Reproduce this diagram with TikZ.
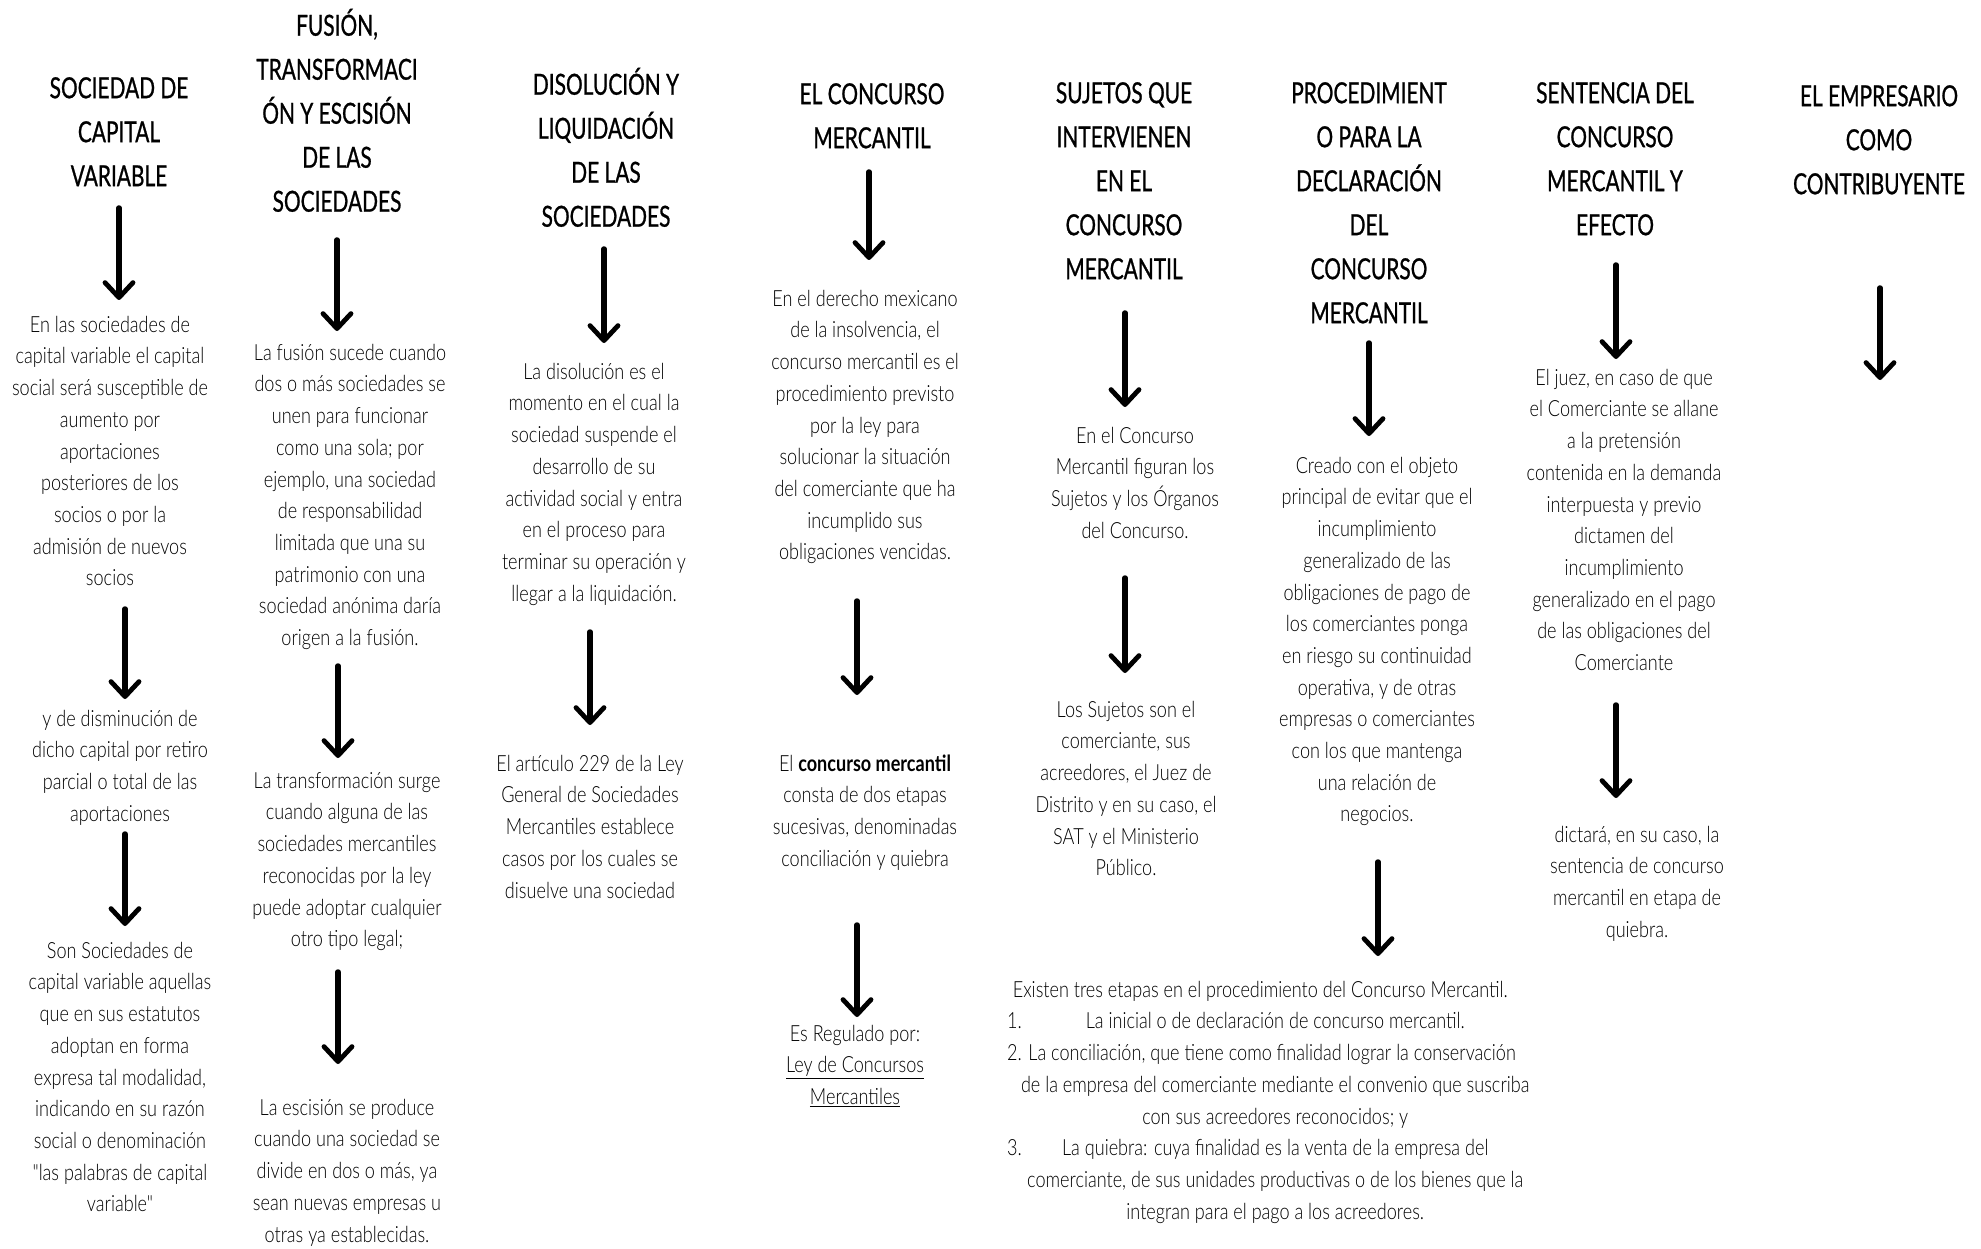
\documentclass[tikz,border=0pt]{standalone}
\usepackage{fontspec}
\usetikzlibrary{arrows.meta}
\IfFontExistsTF{Lato Light}{%
  \newfontfamily\bdfont[FakeStretch=0.81,BoldFont={Lato Bold}]{Lato Light}}{%
  \newfontfamily\bdfont[FakeStretch=0.81]{Lato}}
\newfontfamily\hdfont[FakeStretch=0.72,FakeBold=0.8]{Lato}
\newcommand\hstr{\rule{0pt}{29pt}}
\newcommand\bstr{\rule{0pt}{22.3pt}}
\begin{document}
\begin{tikzpicture}[x=1pt,y=-1pt,
  hd/.style={font=\hdfont\fontsize{29}{44}\selectfont, align=center, inner sep=0pt, anchor=north},
  bd/.style={font=\bdfont\fontsize{22.3}{31.7}\selectfont, align=center, inner sep=0pt, anchor=north},
  arr/.style={line width=5.5pt, line cap=round,
    -{Straight Barb[length=15pt,width=28pt,line width=4.8pt,round]}}]
\useasboundingbox (0,0) rectangle (1981,1249);
\fill[white] (0,0) rectangle (1981,1249);

% ---------- Column 1
\node[hd] (h1) at (119,69) {\hstr SOCIEDAD DE\\CAPITAL\\VARIABLE};
\node[bd] (t1a) at (110,309.7) {\bstr En las sociedades de\\capital variable el capital\\social será susceptible de\\aumento por\\aportaciones\\posteriores de los\\socios o por la\\admisión de nuevos\\socios};
\node[bd] (t1b) at (120,703.7) {\bstr y de disminución de\\dicho capital por retiro\\parcial o total de las\\aportaciones};
\node[bd] (t1c) at (120,935.7) {\bstr Son Sociedades de\\capital variable aquellas\\que en sus estatutos\\adoptan en forma\\expresa tal modalidad,\\indicando en su razón\\social o denominación\\"las palabras de capital\\variable"};
\coordinate (a1s) at (119,208); \coordinate (a1e) at (119,300);
\coordinate (a2s) at (125,609); \coordinate (a2e) at (125,699);
\coordinate (a3s) at (125,834); \coordinate (a3e) at (125,926);
\draw[arr] (a1s) -- (a1e);
\draw[arr] (a2s) -- (a2e);
\draw[arr] (a3s) -- (a3e);

% ---------- Column 2
\node[hd] (h2) at (337,6.5) {\hstr FUSIÓN,\\TRANSFORMACI\\ÓN Y ESCISIÓN\\DE LAS\\SOCIEDADES};
\node[bd] (t2a) at (350,337.7) {\bstr La fusión sucede cuando\\dos o más sociedades se\\unen para funcionar\\como una sola; por\\ejemplo, una sociedad\\de responsabilidad\\limitada que una su\\patrimonio con una\\sociedad anónima daría\\origen a la fusión.};
\node[bd] (t2b) at (347,765.7) {\bstr La transformación surge\\cuando alguna de las\\sociedades mercantiles\\reconocidas por la ley\\puede adoptar cualquier\\otro tipo legal;};
\node[bd] (t2c) at (347,1092.7) {\bstr La escisión se produce\\cuando una sociedad se\\divide en dos o más, ya\\sean nuevas empresas u\\otras ya establecidas.};
\coordinate (b1s) at (337,240); \coordinate (b1e) at (337,331);
\coordinate (b2s) at (338,666); \coordinate (b2e) at (338,758);
\coordinate (b3s) at (338,972); \coordinate (b3e) at (338,1064);
\draw[arr] (b1s) -- (b1e);
\draw[arr] (b2s) -- (b2e);
\draw[arr] (b3s) -- (b3e);

% ---------- Column 3
\node[hd] (h3) at (606,65.5) {\hstr DISOLUCIÓN Y\\LIQUIDACIÓN\\DE LAS\\SOCIEDADES};
\node[bd] (t3a) at (594,356.7) {\bstr La disolución es el\\momento en el cual la\\sociedad suspende el\\desarrollo de su\\actividad social y entra\\en el proceso para\\terminar su operación y\\llegar a la liquidación.};
\node[bd] (t3b) at (590,748.7) {\bstr El artículo 229 de la Ley\\General de Sociedades\\Mercantiles establece\\casos por los cuales se\\disuelve una sociedad};
\coordinate (c1s) at (604,249); \coordinate (c1e) at (604,343);
\coordinate (c2s) at (590,632); \coordinate (c2e) at (590,725);
\draw[arr] (c1s) -- (c1e);
\draw[arr] (c2s) -- (c2e);

% ---------- Column 4
\node[hd] (h4) at (872,75) {\hstr EL CONCURSO\\MERCANTIL};
\node[bd] (t4a) at (865,283.7) {\bstr En el derecho mexicano\\de la insolvencia, el\\concurso mercantil es el\\procedimiento previsto\\por la ley para\\solucionar la situación\\del comerciante que ha\\incumplido sus\\obligaciones vencidas.};
\node[bd] (t4b) at (865,748.7) {\bstr El \textbf{concurso mercantil}\\consta de dos etapas\\sucesivas, denominadas\\conciliación y quiebra};
\node[bd] (t4c) at (855,1018.7) {\bstr Es Regulado por:\\\underline{Ley de Concursos}\\\underline{Mercantiles}};
\coordinate (d1s) at (869,172); \coordinate (d1e) at (869,260);
\coordinate (d2s) at (857,601); \coordinate (d2e) at (857,695);
\coordinate (d3s) at (857,925); \coordinate (d3e) at (857,1017);
\draw[arr] (d1s) -- (d1e);
\draw[arr] (d2s) -- (d2e);
\draw[arr] (d3s) -- (d3e);

% ---------- Column 5
\node[hd] (h5) at (1124,74) {\hstr SUJETOS QUE\\INTERVIENEN\\EN EL\\CONCURSO\\MERCANTIL};
\node[bd] (t5a) at (1135,420.7) {\bstr En el Concurso\\Mercantil figuran los\\Sujetos y los Órganos\\del Concurso.};
\node[bd] (t5b) at (1126,694.7) {\bstr Los Sujetos son el\\comerciante, sus\\acreedores, el Juez de\\Distrito y en su caso, el\\SAT y el Ministerio\\Público.};
\coordinate (e1s) at (1125,313); \coordinate (e1e) at (1125,407);
\coordinate (e2s) at (1125,578); \coordinate (e2e) at (1125,673);
\draw[arr] (e1s) -- (e1e);
\draw[arr] (e2s) -- (e2e);

% ---------- Column 6
\node[hd] (h6) at (1369,74) {\hstr PROCEDIMIENT\\O PARA LA\\DECLARACIÓN\\DEL\\CONCURSO\\MERCANTIL};
\node[bd] (t6a) at (1377,450.7) {\bstr Creado con el objeto\\principal de evitar que el\\incumplimiento\\generalizado de las\\obligaciones de pago de\\los comerciantes ponga\\en riesgo su continuidad\\operativa, y de otras\\empresas o comerciantes\\con los que mantenga\\una relación de\\negocios.};
\node[bd, align=left, anchor=north west] (t6b) at (1007,974.7) {%
\bstr\hbox to 536pt{\hfil Existen tres etapas en el procedimiento del Concurso Mercantil.\hspace{30pt}\hfil}\\
\hbox to 536pt{\rlap{1.}\hfil La inicial o de declaración de concurso mercantil.\hfil}\\
\hbox to 536pt{2. La conciliación, que tiene como finalidad lograr la conservación\hfil}\\
\hbox to 536pt{\hfil de la empresa del comerciante mediante el convenio que suscriba\hfil}\\
\hbox to 536pt{\hfil con sus acreedores reconocidos; y\hfil}\\
\hbox to 536pt{\rlap{3.}\hfil La quiebra: cuya finalidad es la venta de la empresa del\hfil}\\
\hbox to 536pt{\hfil comerciante, de sus unidades productivas o de los bienes que la\hfil}\\
\hbox to 536pt{\hfil integran para el pago a los acreedores.\hfil}};
\coordinate (f1s) at (1369,343); \coordinate (f1e) at (1369,436);
\coordinate (f2s) at (1378,862); \coordinate (f2e) at (1378,956);
\draw[arr] (f1s) -- (f1e);
\draw[arr] (f2s) -- (f2e);

% ---------- Column 7
\node[hd] (h7) at (1615,74) {\hstr SENTENCIA DEL\\CONCURSO\\MERCANTIL Y\\EFECTO};
\node[bd] (t7a) at (1624,362.7) {\bstr El juez, en caso de que\\el Comerciante se allane\\a la pretensión\\contenida en la demanda\\interpuesta y previo\\dictamen del\\incumplimiento\\generalizado en el pago\\de las obligaciones del\\Comerciante};
\node[bd] (t7b) at (1637,819.7) {\bstr dictará, en su caso, la\\sentencia de concurso\\mercantil en etapa de\\quiebra.};
\coordinate (g1s) at (1616,265); \coordinate (g1e) at (1616,359);
\coordinate (g2s) at (1616,705); \coordinate (g2e) at (1616,798);
\draw[arr] (g1s) -- (g1e);
\draw[arr] (g2s) -- (g2e);

% ---------- Column 8
\node[hd] (h8) at (1879,77) {\hstr EL EMPRESARIO\\COMO\\CONTRIBUYENTE};
\coordinate (k1s) at (1880,288); \coordinate (k1e) at (1880,380);
\draw[arr] (k1s) -- (k1e);
\end{tikzpicture}
\end{document}
